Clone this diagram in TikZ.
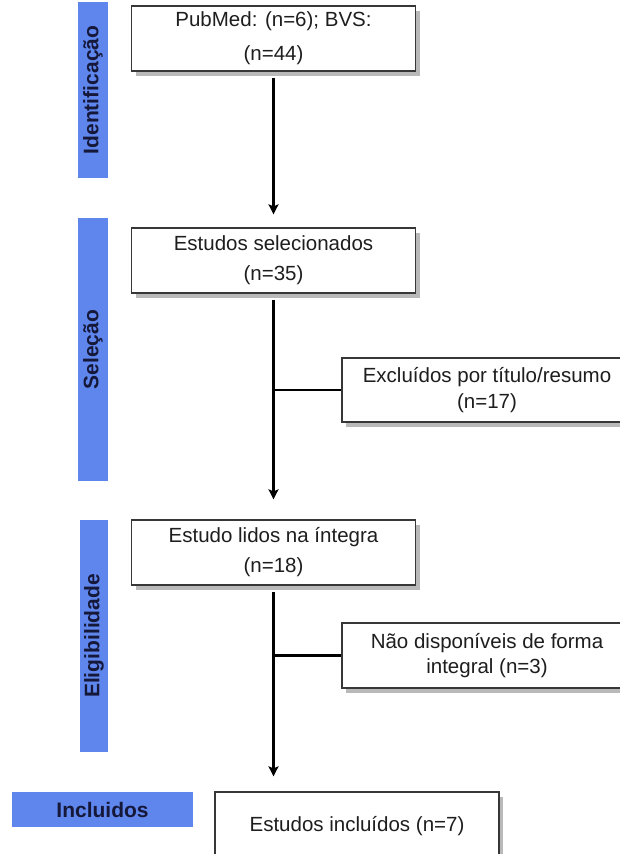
\documentclass[tikz,border=0pt]{standalone}
\usepackage{fontspec}
\setmainfont{Liberation Sans}
\usetikzlibrary{arrows.meta,shadows}
\definecolor{barblue}{RGB}{94,134,236}
\definecolor{navy}{RGB}{22,24,58}
\definecolor{shadowgray}{RGB}{185,185,185}
\definecolor{boxline}{RGB}{55,55,55}
\definecolor{txt}{RGB}{30,30,30}
\begin{document}
\begin{tikzpicture}[x=1pt,y=-1pt,
  flowbox/.style={draw=boxline, line width=1.3pt, fill=white, text=txt, align=center, inner sep=0pt,
    drop shadow={shadow xshift=4pt, shadow yshift=-5pt, fill=shadowgray, opacity=1}},
  phasebar/.style={fill=barblue, draw=none, text=navy, inner sep=0pt, font=\bfseries\fontsize{21}{24}\selectfont},
  conn/.style={draw=black, line width=2.2pt},
  arr/.style={conn, -{Stealth[length=10pt,width=10pt,inset=2pt]}}
]
\useasboundingbox (0,0) rectangle (619,854);
\fill[white] (0,0) rectangle (619,854);

% phase bars
\node[phasebar, minimum width=176pt, minimum height=30pt, rotate=90] (bar1) at (93,90) {Identificação};
\node[phasebar, minimum width=263pt, minimum height=30pt, rotate=90] (bar2) at (93,349.5) {Seleção};
\node[phasebar, minimum width=232pt, minimum height=28pt, rotate=90] (bar3) at (94,636) {Eligibilidade};
\node[phasebar, minimum width=181pt, minimum height=35pt] (bar4) at (102.5,809.5) {Incluidos};

% boxes
\node[flowbox, minimum width=284pt, minimum height=65pt, font=\fontsize{20.5}{34}\selectfont] (box1) at (273.5,38.5) {PubMed: (n=6); BVS:\\(n=44)};
\node[flowbox, minimum width=284pt, minimum height=65pt, font=\fontsize{20.5}{30}\selectfont] (box2) at (273.5,260.5) {Estudos selecionados\\(n=35)};
\node[flowbox, minimum width=290pt, minimum height=64pt, font=\fontsize{20.5}{26}\selectfont] (box3) at (487,390) {Excluídos por título/resumo\\(n=17)};
\node[flowbox, minimum width=284pt, minimum height=65pt, font=\fontsize{20.5}{30}\selectfont] (box4) at (273.5,552.5) {Estudo lidos na íntegra\\(n=18)};
\node[flowbox, minimum width=290pt, minimum height=65pt, font=\fontsize{20.5}{25}\selectfont] (box5) at (487,655.5) {Não disponíveis de forma\\integral (n=3)};
\node[flowbox, minimum width=284pt, minimum height=68pt, font=\fontsize{20.5}{25}\selectfont, text depth=0pt] (box6) at (357,826) {\raisebox{4pt}{Estudos incluídos (n=7)}};

% connectors
\draw[arr, shorten <=6pt, shorten >=13pt] (box1.south) -- (box2.north);
\draw[arr, shorten <=6pt, shorten >=20pt] (box2.south) -- (box4.north);
\coordinate (end3) at (box4.south |- box6.north);
\draw[arr, shorten <=6pt, shorten >=15pt] (box4.south) -- (end3);
\coordinate (j1) at (box2.south |- box3.west);
\coordinate (j2) at (box4.south |- box5.west);
\draw[conn] (j1) -- (box3.west);
\draw[conn] (j2) -- (box5.west);
\end{tikzpicture}
\end{document}
